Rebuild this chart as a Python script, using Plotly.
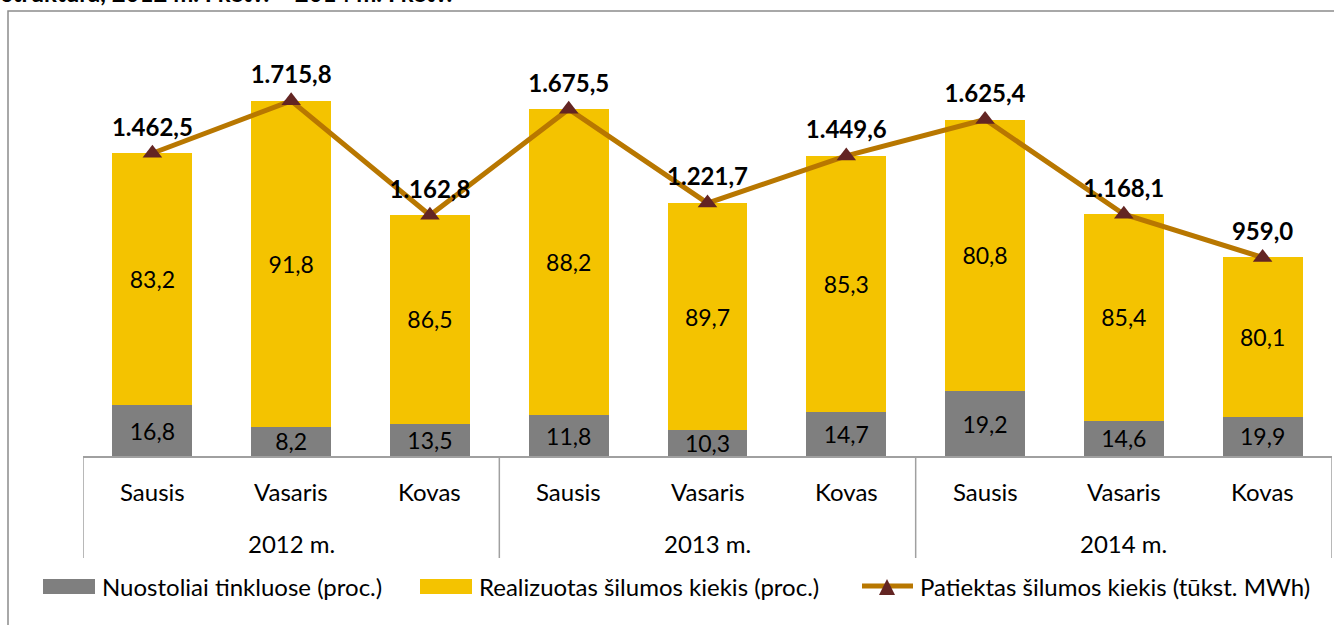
import plotly.graph_objects as go

# ---------------- data ----------------
months = ["Sausis", "Vasaris", "Kovas", "Sausis", "Vasaris", "Kovas", "Sausis", "Vasaris", "Kovas"]
years = ["2012 m.", "2013 m.", "2014 m."]
losses_pct = [16.8, 8.2, 13.5, 11.8, 10.3, 14.7, 19.2, 14.6, 19.9]
realized_pct = [83.2, 91.8, 86.5, 88.2, 89.7, 85.3, 80.8, 85.4, 80.1]
supplied = [1462.5, 1715.8, 1162.8, 1675.5, 1221.7, 1449.6, 1625.4, 1168.1, 959.0]
series_names = ["Nuostoliai tinkluose (proc.)", "Realizuotas šilumos kiekis (proc.)",
                "Patiektas šilumos kiekis (tūkst. MWh)"]
title_text = "struktūra, 2012 m. I ketv. – 2014 m. I ketv."

# ---------------- styles ----------------
FONT = "Lato"
GRAY = "#7F7F7F"
YELLOW = "#F4C300"
LINE = "#B87700"
MARK = "#632523"
FRAME = "#A0A0A0"

W, H = 1334, 625
L, R, T, B = 83, 2, 42, 169
PW, PH = W - L - R, H - T - B


def px(xp):
    return (xp - L) / PW


def py(yp):
    return (H - B - yp) / PH


xs = list(range(len(months)))
loss_abs = [s * p / 100 for s, p in zip(supplied, losses_pct)]
real_abs = [s * p / 100 for s, p in zip(supplied, realized_pct)]

fig = go.Figure()
fig.add_trace(go.Bar(
    x=xs, y=loss_abs, text=losses_pct, texttemplate="%{text:.1f}",
    textposition="inside", insidetextanchor="middle", textangle=0,
    constraintext="none", width=0.575, marker=dict(color=GRAY, line=dict(width=0)),
    textfont=dict(family=FONT, size=23, color="black"), name=series_names[0],
    showlegend=False))
fig.add_trace(go.Bar(
    x=xs, y=real_abs, text=realized_pct, texttemplate="%{text:.1f}",
    textposition="inside", insidetextanchor="middle", textangle=0,
    constraintext="none", width=0.575, marker=dict(color=YELLOW, line=dict(width=0)),
    textfont=dict(family=FONT, size=23, color="black"), name=series_names[1],
    showlegend=False))
fig.add_trace(go.Scatter(
    x=xs, y=supplied, mode="lines+markers+text", texttemplate="%{y:,.1f}",
    textposition="top center", cliponaxis=False,
    line=dict(color=LINE, width=5),
    marker=dict(symbol="triangle-up", size=17, color=MARK),
    textfont=dict(family=FONT, size=24, color="black", weight="bold"),
    name=series_names[2], showlegend=False))

shapes = []
# outer frame
shapes.append(dict(type="rect", xref="paper", yref="paper", x0=px(8), x1=px(1345), y0=py(11), y1=py(650),
                   line=dict(color="#8C8C8C", width=1.5), fillcolor="rgba(0,0,0,0)", layer="below"))
# group dividers
for xv in [-0.5, 2.5, 5.5, 8.5]:
    shapes.append(dict(type="line", xref="x", yref="paper", x0=xv, x1=xv, y0=0, y1=py(558),
                       line=dict(color=FRAME, width=1.5)))

annotations = []
for i, m in enumerate(months):
    annotations.append(dict(x=i, y=py(491), xref="x", yref="paper", text=m, showarrow=False,
                            xanchor="center", yanchor="middle",
                            font=dict(family=FONT, size=24, color="black")))
for j, yr in enumerate(years):
    annotations.append(dict(x=3 * j + 1, y=py(543), xref="x", yref="paper", text=yr, showarrow=False,
                            xanchor="center", yanchor="middle",
                            font=dict(family=FONT, size=24, color="black")))

# title (cut off at the top, as in the reference)
annotations.append(dict(x=px(0), y=py(9), xref="paper", yref="paper", text="<b>" + title_text + "</b>",
                        showarrow=False, xanchor="left", yanchor="bottom",
                        font=dict(family=FONT, size=24, color="black")))

# custom legend
ly = 586
shapes.append(dict(type="rect", xref="paper", yref="paper", x0=px(43), x1=px(95), y0=py(579), y1=py(594),
                   fillcolor=GRAY, line=dict(width=0)))
shapes.append(dict(type="rect", xref="paper", yref="paper", x0=px(420), x1=px(472), y0=py(579), y1=py(594),
                   fillcolor=YELLOW, line=dict(width=0)))
shapes.append(dict(type="line", xref="paper", yref="paper", x0=px(862), x1=px(913), y0=py(ly), y1=py(ly),
                   line=dict(color=LINE, width=5)))
shapes.append(dict(type="path", xref="paper", yref="paper",
                   path=f"M {px(879)},{py(595)} L {px(887)},{py(579)} L {px(895)},{py(595)} Z",
                   fillcolor=MARK, line=dict(width=0)))
for xt, name in zip([100, 477, 918], series_names):
    annotations.append(dict(x=px(xt), y=py(ly), xref="paper", yref="paper", text=name, showarrow=False,
                            xanchor="left", yanchor="middle",
                            font=dict(family=FONT, size=24, color="black")))

fig.update_layout(
    width=W, height=H, margin=dict(l=L, r=R, t=T, b=B),
    barmode="stack", bargap=0.425, separators=",.",
    paper_bgcolor="white", plot_bgcolor="white",
    showlegend=False, shapes=shapes, annotations=annotations,
    xaxis=dict(range=[-0.5, 8.5], showticklabels=False, showgrid=False, zeroline=False,
               showline=True, linecolor=FRAME, linewidth=1.5, fixedrange=True),
    yaxis=dict(range=[0, 2000], visible=False, showgrid=False, zeroline=False, fixedrange=True),
    font=dict(family=FONT),
)

fig.write_html("out.html", config={"displayModeBar": False},
               post_script="document.body.style.margin='0';document.body.style.overflow='hidden';")
